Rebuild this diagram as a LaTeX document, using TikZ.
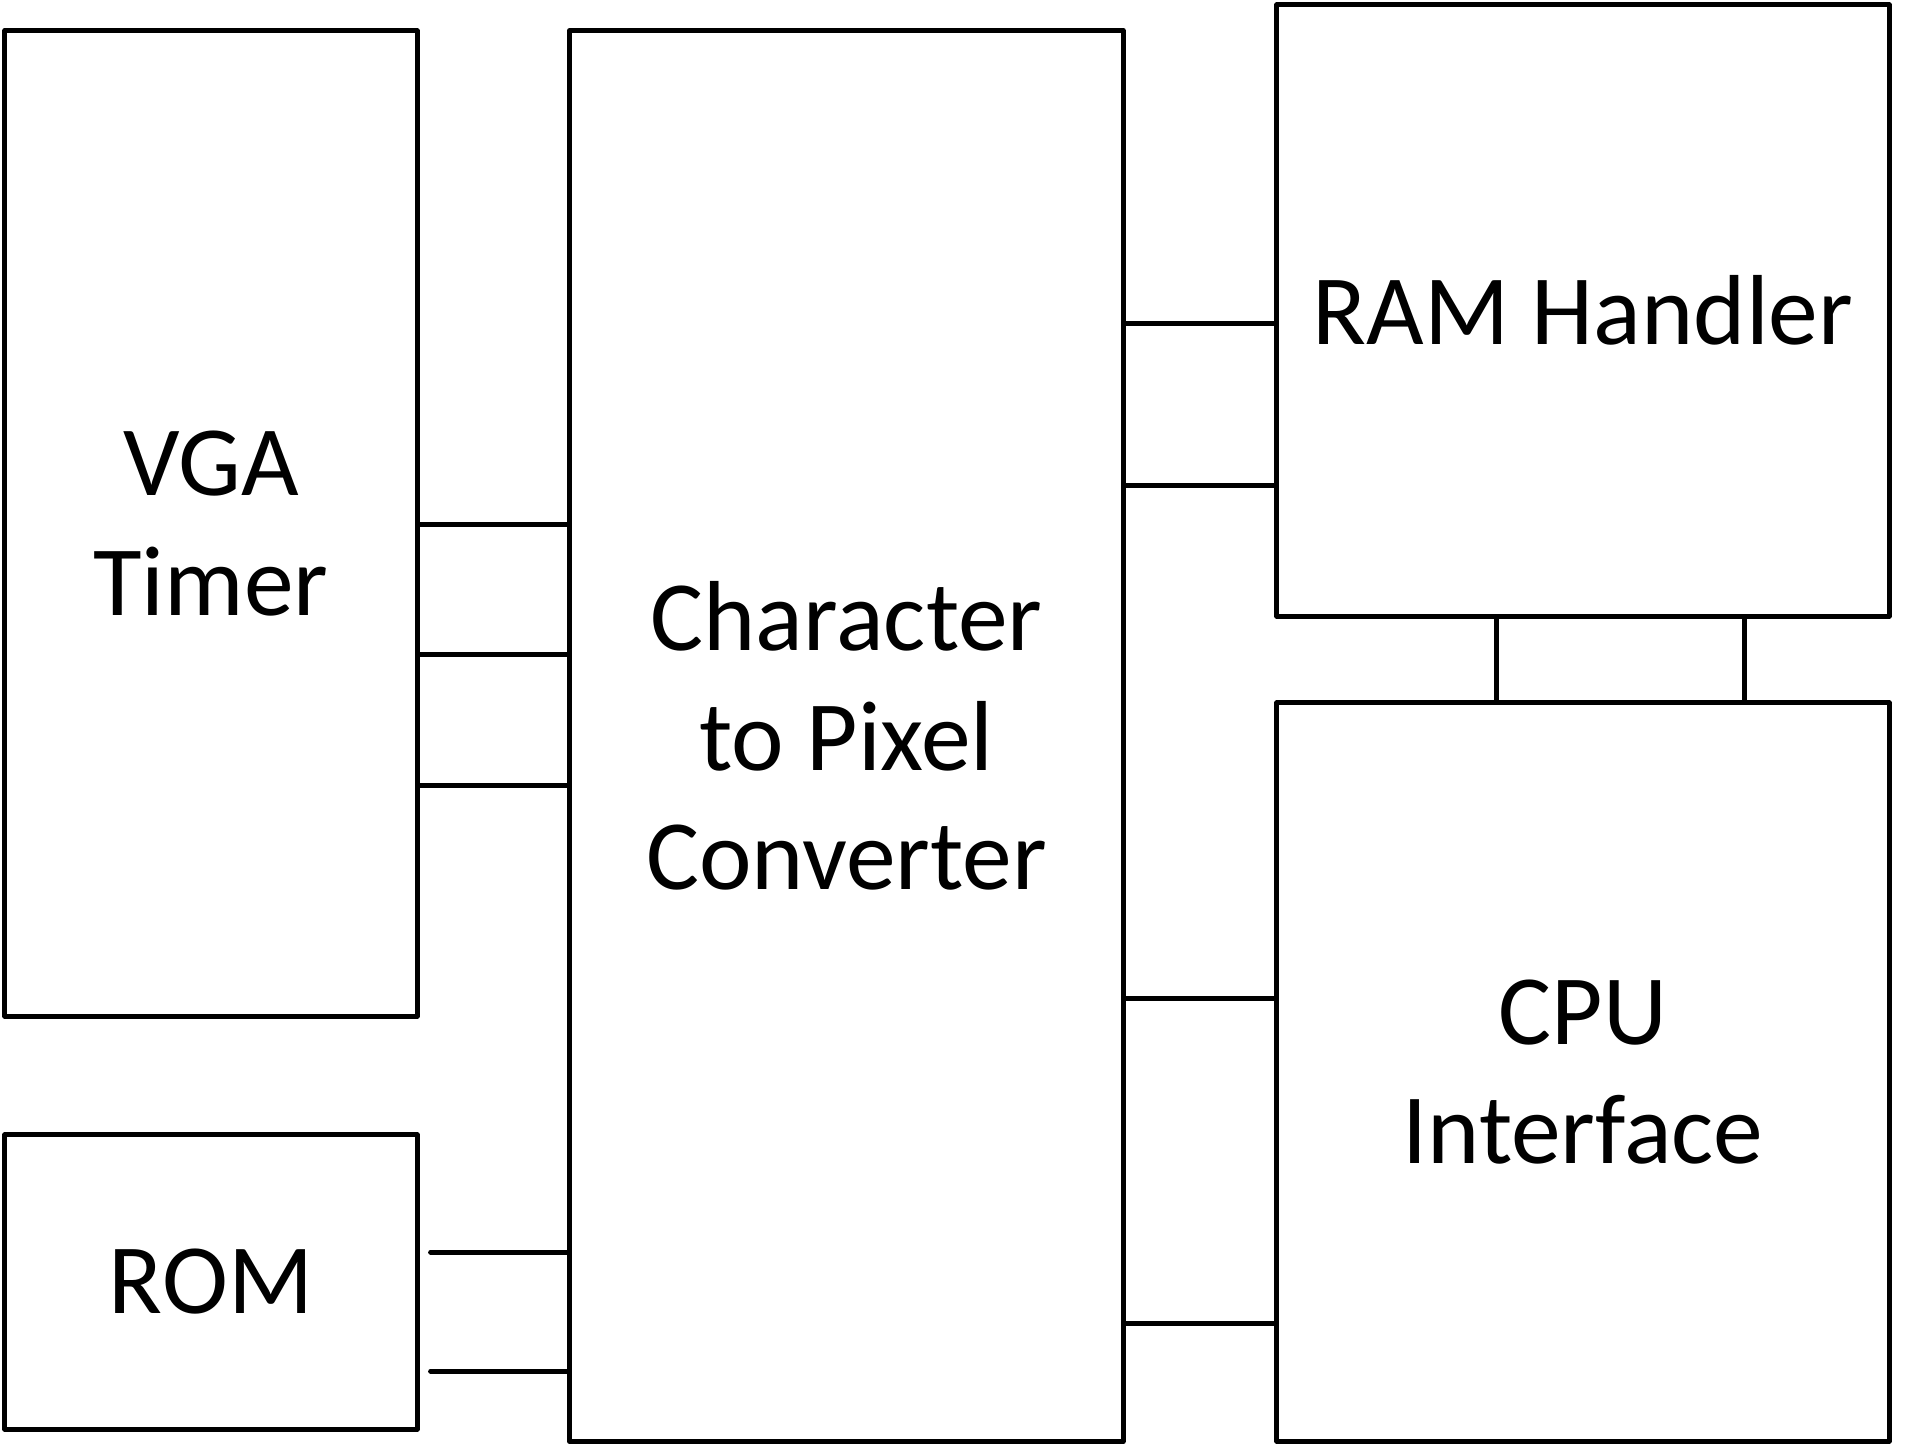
\documentclass[tikz,border=0pt]{standalone}
\usepackage{fontspec}
\setmainfont{Carlito}
\usepackage{tikz}
\tikzset{
    block/.style = {rectangle, draw=black, line width=0.05cm, align=center, inner sep=0pt,
                    font=\fontsize{28.3pt}{34pt}\selectfont},
    wire/.style = {line width=0.05cm, line cap=round}
}

\begin{document}
\begin{tikzpicture}
            [x=0.01cm, y=-0.01cm, line join=round]
            \useasboundingbox (0,0) rectangle (1905,1445);

            \node [block, minimum width=4.12cm, minimum height=9.85cm] (vga) at (211,523.5) {VGA\\Timer};
            \node [block, minimum width=4.12cm, minimum height=2.94cm] (rom) at (211,1282) {ROM};
            \node [block, minimum width=5.53cm, minimum height=14.10cm] (char) at (846.5,736) {Character\\to Pixel\\Converter};
            \node [block, minimum width=6.12cm, minimum height=6.11cm] (ram) at (1583,310.5) {RAM Handler};
            \node [block, minimum width=6.12cm, minimum height=7.38cm] (cpu) at (1583,1072) {CPU\\Interface};

            % timer to converter
            \foreach \y in {524,654,785}
                \draw [wire] (vga.east |- 0,\y) -- (char.west |- 0,\y);
            % rom to converter
            \foreach \y in {1252,1371}
                \draw [wire] ([xshift=0.11cm]rom.east |- 0,\y) -- ([xshift=0.02cm]char.west |- 0,\y);
            % converter to ram / cpu
            \foreach \y in {323,485}
                \draw [wire] (char.east |- 0,\y) -- (ram.west |- 0,\y);
            \foreach \y in {998,1323}
                \draw [wire] (char.east |- 0,\y) -- (cpu.west |- 0,\y);
            % ram to cpu
            \foreach \x in {1496,1744}
                \draw [wire] (ram.south -| \x,0) -- (cpu.north -| \x,0);
        \end{tikzpicture}
\end{document}
